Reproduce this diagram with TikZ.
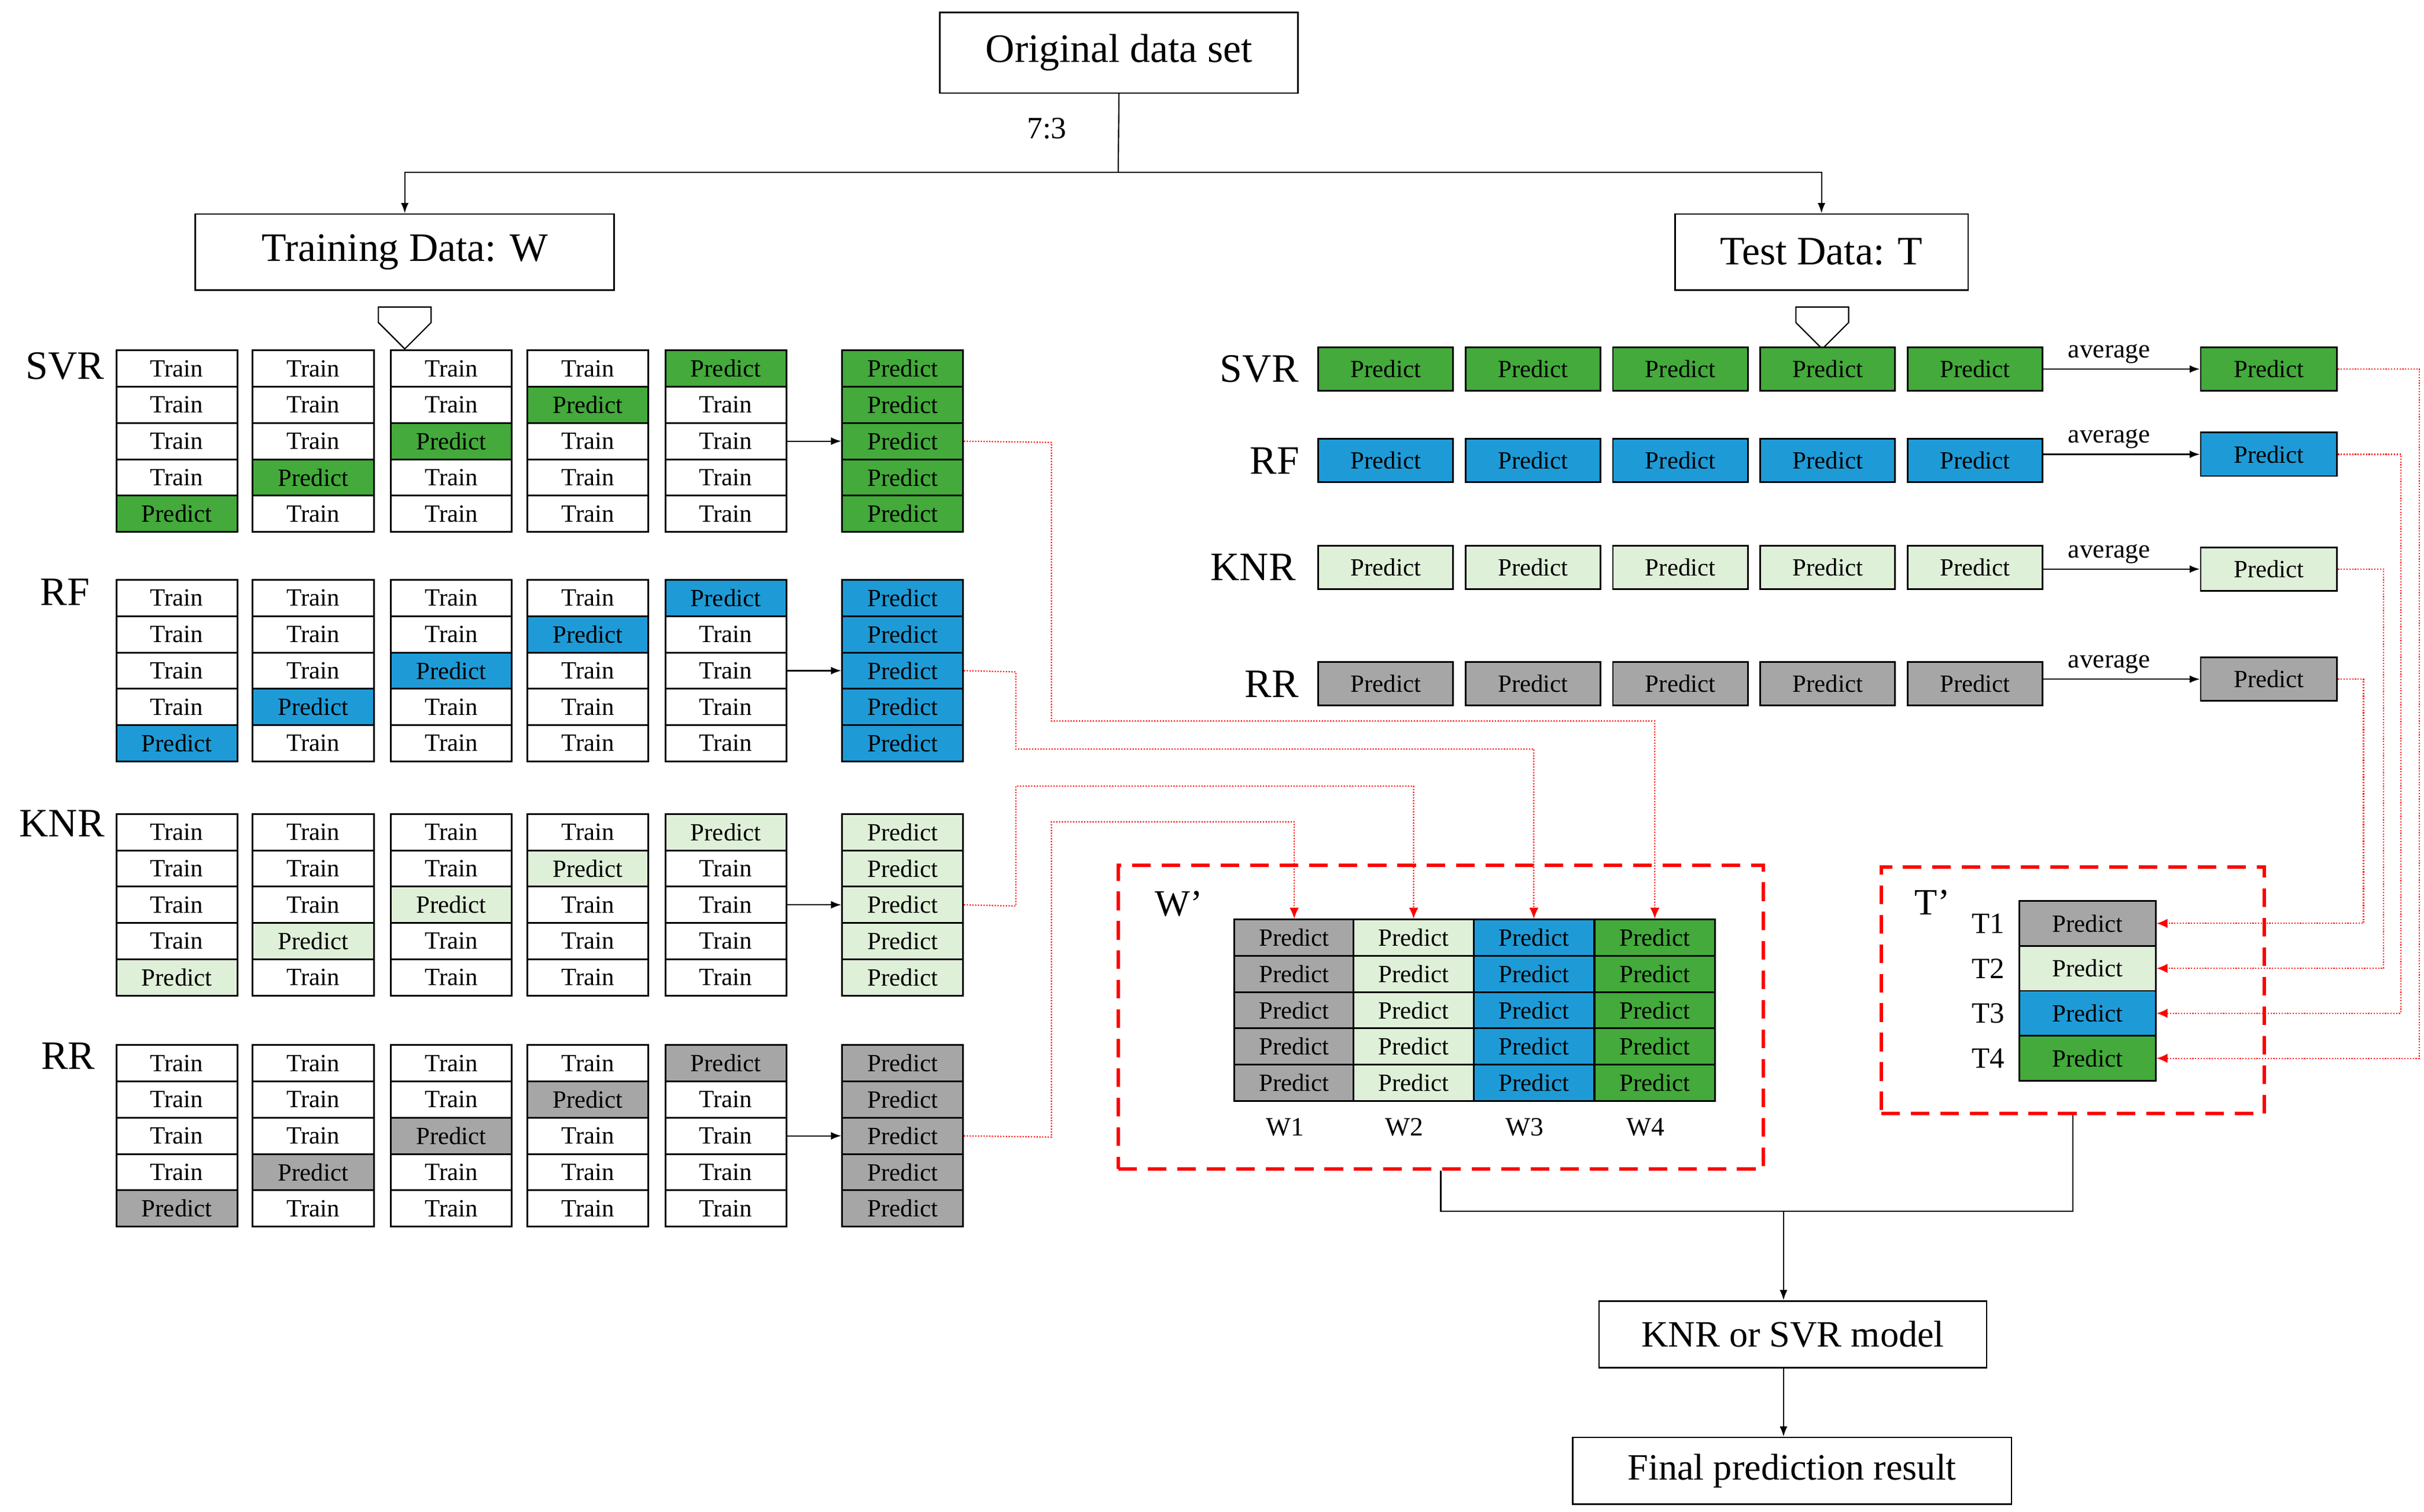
\documentclass[tikz,border=0pt]{standalone}
\usepackage{fontspec}
\setmainfont{Liberation Serif}
\usetikzlibrary{arrows.meta,shapes.arrows}
\definecolor{cg}{HTML}{43AA3B}
\definecolor{cb}{HTML}{1E9BD7}
\definecolor{cl}{HTML}{DFF0D8}
\definecolor{cy}{HTML}{A6A6A6}
\begin{document}
\begin{tikzpicture}[x=1pt,y=-1pt,
  cell/.style={draw,line width=1.1pt,minimum width=78pt,minimum height=23.4pt,inner sep=0pt,font=\fontsize{16}{16}\selectfont},
  tcell/.style={draw,line width=1.1pt,minimum width=87pt,minimum height=28pt,inner sep=0pt,font=\fontsize{16}{16}\selectfont},
  big/.style={draw,line width=1pt,inner sep=0pt,font=\fontsize{26}{26}\selectfont},
  lab/.style={font=\fontsize{26}{26}\selectfont},
  small/.style={font=\fontsize{17}{17}\selectfont},
  red box/.style={draw=red,line width=2.2pt,dash pattern=on 12pt off 7pt},
  rdot/.style={red,line width=0.8pt,densely dotted,-{Latex[length=7pt,width=6pt]}},
  hollow/.style={single arrow,draw,line width=0.8pt,shape border rotate=270,minimum height=27pt,minimum width=34pt,single arrow head extend=0pt,single arrow tip angle=90,inner sep=0pt}]
\useasboundingbox (0,0) rectangle (1563,975);

% top
\node[big,minimum width=231pt,minimum height=52pt] (orig) at (721.5,34) {Original data set};
\node[small,font=\fontsize{20}{20}\selectfont] (ratio) at (675,83) {7:3};
\node[big,minimum width=270pt,minimum height=49pt] (train) at (261,162.5) {Training Data: W};
\node[big,minimum width=189pt,minimum height=49pt] (test) at (1174.5,162.5) {Test Data: T};
\coordinate (split) at (721,111);
\draw[line width=0.8pt] (orig.south) -- (split);
\draw[line width=0.8pt,-Latex] (split) -| (train.north);
\draw[line width=0.8pt,-Latex] (split) -| (test.north);
\node[hollow] (ha1) at (261,203) {};
\node[hollow] (ha2) at (1175,203) {};

% left grids
\foreach \g/\top/\col/\lab/\lx/\ly in {svr/226/cg/SVR/42/236,rf/374/cb/RF/42/382,knr/525/cl/KNR/40/531,rr/674/cy/RR/44/681}{
  \node[lab] (\g-lab) at (\lx,\ly) {\lab};
  \foreach \c/\xx in {0/114,1/202,2/291,3/379,4/468}{
    \foreach \r in {0,...,4}{
      \pgfmathsetmacro\yy{\top+11.7+23.4*\r}
      \pgfmathtruncatemacro\pr{4-\c}
      \ifnum\r=\pr
        \node[cell,fill=\col] (\g-\c-\r) at (\xx,\yy) {Predict};
      \else
        \node[cell] (\g-\c-\r) at (\xx,\yy) {Train};
      \fi
    }
  }
  \foreach \r in {0,...,4}{
    \pgfmathsetmacro\yy{\top+11.7+23.4*\r}
    \node[cell,fill=\col] (\g-r-\r) at (582,\yy) {Predict};
  }
  \draw[line width=0.8pt,-Latex] (\g-4-2.east) -- (\g-r-2.west);
}

% right rows
\foreach \g/\yy/\col/\lab/\lx/\fy in {svr/238/cg/SVR/812/238,rf/297/cb/RF/822/293,knr/366/cl/KNR/808/367,rr/441/cy/RR/820/438}{
  \node[lab] (t\g-lab) at (\lx,\yy) {\lab};
  \foreach \c/\xx in {1/893.5,2/988.5,3/1083.5,4/1178.5,5/1273.5}{
    \node[tcell,fill=\col] (t\g\c) at (\xx,\yy) {Predict};
  }
  \node[tcell,minimum width=88pt,fill=\col] (t\g f) at (1463,\fy) {Predict};
  \draw[line width=0.8pt,-Latex] (t\g5.east |- t\g f) -- node[small,above,pos=0.42] {average} (t\g f.west);
}

% W' box
\node[red box,minimum width=416pt,minimum height=196pt] (wbox) at (929,656) {};
\node[lab,font=\fontsize{24}{24}\selectfont] (wlab) at (760,583) {W’};
\foreach \c/\xx/\col in {1/834.5/cy,2/911.5/cl,3/989/cb,4/1067/cg}{
  \foreach \r in {0,...,4}{
    \pgfmathsetmacro\yy{593+11.7+23.4*\r}
    \node[cell,fill=\col,minimum width=77.5pt] (w\c-\r) at (\xx,\yy) {Predict};
  }
  \node[small] (wl\c) at (\xx-6,727) {W\c};
}

% T' box
\node[red box,minimum width=247pt,minimum height=159pt] (tbox) at (1336.5,638.5) {};
\node[lab,font=\fontsize{24}{24}\selectfont] (tlab) at (1246,582) {T’};
\foreach \i/\col in {1/cy,2/cl,3/cb,4/cg}{
  \pgfmathsetmacro\yy{581+14.5+29*(\i-1)}
  \node[cell,fill=\col,minimum width=88pt,minimum height=29pt] (t\i) at (1346,\yy) {Predict};
  \node[small,font=\fontsize{19}{19}\selectfont] (tl\i) at (1282,\yy) {T\i};
}

% red dotted connectors left
\draw[rdot] (svr-r-2.east) -- (678,285.3) -- (678,465) -| (w4-0.north);
\draw[rdot] (rf-r-2.east) -- (655,433.3) -- (655,483) -| (w3-0.north);
\draw[rdot] (knr-r-2.east) -- (655,584.3) -- (655,507) -| (w2-0.north);
\draw[rdot] (rr-r-2.east) -- (678,733.3) -- (678,530) -| (w1-0.north);

% red dotted connectors right
\coordinate (v1) at (1560,0);
\coordinate (v2) at (1548,0);
\coordinate (v3) at (1537,0);
\coordinate (v4) at (1524,0);
\draw[rdot] (tsvrf.east) -- (tsvrf.east -| v1) |- (t4.east);
\draw[rdot] (trff.east) -- (trff.east -| v2) |- (t3.east);
\draw[rdot] (tknrf.east) -- (tknrf.east -| v3) |- (t2.east);
\draw[rdot] (trrf.east) -- (trrf.east -| v4) |- (t1.east);

% bottom
\node[big,font=\fontsize{24}{24}\selectfont,minimum width=250pt,minimum height=43pt] (model) at (1156,860.5) {KNR or SVR model};
\node[big,font=\fontsize{24}{24}\selectfont,minimum width=283pt,minimum height=43pt] (final) at (1155.5,948.5) {Final prediction result};
\coordinate (join) at (1150,781);
\draw[line width=0.8pt] (wbox.south) |- (join) -| (tbox.south);
\draw[line width=0.8pt,-Latex] (join) -- (model.north -| join);
\draw[line width=0.8pt,-Latex] (model.south -| join) -- (final.north -| join);
\end{tikzpicture}
\end{document}
